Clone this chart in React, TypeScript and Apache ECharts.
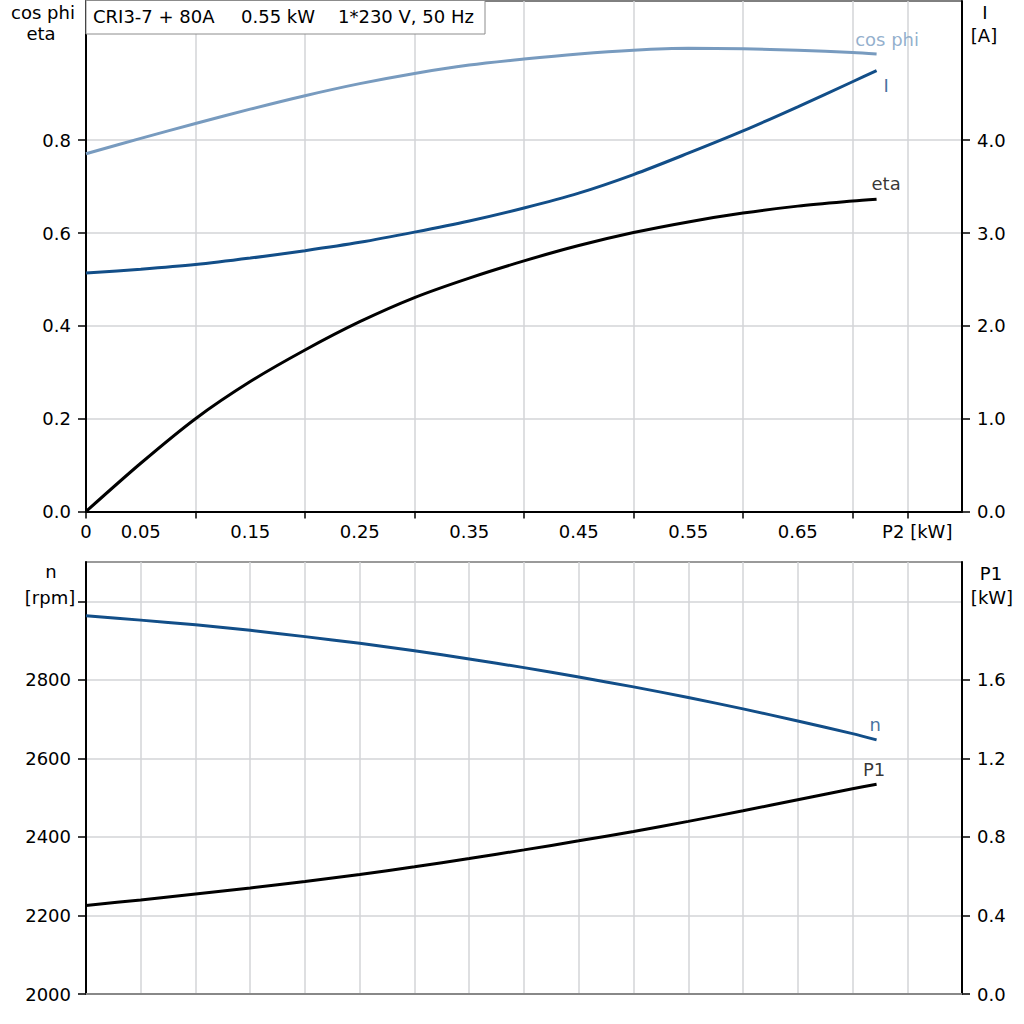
import React, { useEffect, useRef } from "react";
import * as echarts from "echarts";

// ---- data ----
const P2 = [0, 0.05, 0.1, 0.15, 0.2, 0.25, 0.3, 0.35, 0.4, 0.45, 0.5, 0.55, 0.6, 0.65, 0.7, 0.722];
const COS_PHI = [0.771, 0.804, 0.836, 0.867, 0.896, 0.922, 0.944, 0.962, 0.975, 0.986, 0.994, 0.998, 0.997, 0.994, 0.989, 0.986];
const CURRENT = [2.57, 2.61, 2.66, 2.73, 2.81, 2.9, 3.01, 3.13, 3.27, 3.43, 3.63, 3.86, 4.1, 4.36, 4.63, 4.75];
const ETA = [0, 0.104, 0.2, 0.28, 0.348, 0.409, 0.461, 0.503, 0.54, 0.573, 0.601, 0.624, 0.643, 0.658, 0.669, 0.673];
const SPEED = [2963, 2952, 2940, 2926, 2910, 2893, 2874, 2853, 2831, 2807, 2782, 2755, 2726, 2695, 2663, 2647];
const P1 = [0.451, 0.479, 0.509, 0.54, 0.573, 0.609, 0.648, 0.69, 0.734, 0.78, 0.828, 0.879, 0.933, 0.989, 1.045, 1.068];

// ---- tick / label values ----
const X_LABELS = [0, 0.05, 0.15, 0.25, 0.35, 0.45, 0.55, 0.65, 0.75];
const X_TICKS = [0, 0.1, 0.2, 0.3, 0.4, 0.5, 0.6, 0.7, 0.75];
const TOP_LEFT_TICKS = [0, 0.2, 0.4, 0.6, 0.8];
const TOP_RIGHT_TICKS = [0, 1, 2, 3, 4];
const BOTTOM_LEFT_TICKS = [2000, 2200, 2400, 2600, 2800, 3000];
const BOTTOM_LEFT_LABELS = [2000, 2200, 2400, 2600, 2800];
const BOTTOM_RIGHT_TICKS = [0, 0.4, 0.8, 1.2, 1.6];

const FONT = "DejaVu Sans";
const FS = 18;
const GRID_COLOR = "#d3d4d7";
const COS_COLOR = "#789bbf";
const BLUE = "#124e88";
const BLACK = "#000";

export default function App() {
  const ref = useRef<HTMLDivElement>(null);

  useEffect(() => {
    const chart = echarts.init(ref.current as HTMLDivElement, null, { renderer: "svg" });
    const last = P2.length - 1;
    const pts = (ys: number[]) => P2.map((x, i) => [x, ys[i]]);
    const endPt = (ys: number[]) => [[P2[last], ys[last]]];
    const txt = { fontFamily: FONT, fontSize: FS, color: BLACK };

    const lineSeries = (name: string, ys: number[], xi: number, yi: number, color: string) => ({
      type: "line",
      name,
      xAxisIndex: xi,
      yAxisIndex: yi,
      data: pts(ys),
      showSymbol: false,
      symbol: "none",
      smooth: 0.3,
      silent: true,
      z: 3,
      lineStyle: { color, width: 3 },
      itemStyle: { color },
    });

    const labelSeries = (name: string, ys: number[], xi: number, yi: number, color: string, dx: number, dy: number) => ({
      type: "scatter",
      xAxisIndex: xi,
      yAxisIndex: yi,
      data: endPt(ys),
      symbolSize: 1,
      silent: true,
      z: 4,
      itemStyle: { color: "rgba(0,0,0,0)" },
      label: {
        show: true,
        formatter: name,
        position: [dx, dy],
        align: "center",
        verticalAlign: "middle",
        fontFamily: FONT,
        fontSize: FS,
        color,
      },
    });

    const blackLine = { color: BLACK, width: 2 };
    const tickStyle = { color: BLACK, width: 1.5 };
    const splitStyle = { color: GRID_COLOR, width: 1.5 };

    const textEl = (text: string, x: number, y: number, align = "center") => ({
      type: "text",
      x,
      y,
      z: 20,
      style: { text, fontFamily: FONT, fontSize: FS, fill: BLACK, align, verticalAlign: "middle" },
    });

    chart.setOption({
      animation: false,
      backgroundColor: "#fff",
      grid: [
        { left: 86, top: 1, width: 876, height: 510.5, show: true, borderColor: BLACK, borderWidth: 1, outerBoundsMode: "none" },
        { left: 86, top: 562, width: 876, height: 432, show: true, borderColor: "#7a7a7a", borderWidth: 1.5, outerBoundsMode: "none" },
      ],
      xAxis: [
        {
          type: "value",
          gridIndex: 0,
          min: 0,
          max: 0.8,
          interval: 0.05,
          axisLine: { show: true, onZero: false, lineStyle: blackLine },
          axisTick: { show: true, customValues: X_TICKS, length: 7, lineStyle: tickStyle },
          axisLabel: {
            show: true,
            customValues: X_LABELS,
            margin: 11,
            ...txt,
            formatter: (v: number) =>
              v === 0 ? "0" : Math.abs(v - 0.75) < 1e-6 ? "{u|P2 [kW]}" : v.toFixed(2),
            rich: { u: { ...txt, padding: [0, 0, 0, 20] } },
          },
          splitLine: { show: true, lineStyle: splitStyle },
        },
        {
          type: "value",
          gridIndex: 1,
          min: 0,
          max: 0.8,
          interval: 0.05,
          axisLine: { show: true, onZero: false, lineStyle: { color: "#888", width: 2 } },
          axisTick: { show: false },
          axisLabel: { show: false },
          splitLine: { show: true, lineStyle: splitStyle },
        },
      ],
      yAxis: [
        {
          type: "value",
          gridIndex: 0,
          position: "left",
          min: 0,
          max: 1.1,
          interval: 0.1,
          axisLine: { show: true, onZero: false, lineStyle: blackLine },
          axisTick: { show: true, customValues: TOP_LEFT_TICKS, length: 8, lineStyle: tickStyle },
          axisLabel: { customValues: TOP_LEFT_TICKS, margin: 15, ...txt, formatter: (v: number) => v.toFixed(1) },
          splitLine: { show: true, lineStyle: splitStyle },
        },
        {
          type: "value",
          gridIndex: 0,
          position: "right",
          min: 0,
          max: 5.5,
          interval: 0.5,
          axisLine: { show: true, onZero: false, lineStyle: blackLine },
          axisTick: { show: true, customValues: TOP_RIGHT_TICKS, length: 8, lineStyle: tickStyle },
          axisLabel: { customValues: TOP_RIGHT_TICKS, margin: 15, ...txt, formatter: (v: number) => v.toFixed(1) },
          splitLine: { show: false },
        },
        {
          type: "value",
          gridIndex: 1,
          position: "left",
          min: 2000,
          max: 3100,
          interval: 100,
          axisLine: { show: true, onZero: false, lineStyle: blackLine },
          axisTick: { show: true, customValues: BOTTOM_LEFT_TICKS, length: 8, lineStyle: tickStyle },
          axisLabel: { customValues: BOTTOM_LEFT_LABELS, margin: 15, ...txt, formatter: (v: number) => String(v) },
          splitLine: { show: true, lineStyle: splitStyle },
        },
        {
          type: "value",
          gridIndex: 1,
          position: "right",
          min: 0,
          max: 2.2,
          interval: 0.2,
          axisLine: { show: true, onZero: false, lineStyle: blackLine },
          axisTick: { show: true, customValues: BOTTOM_RIGHT_TICKS, length: 8, lineStyle: tickStyle },
          axisLabel: { customValues: BOTTOM_RIGHT_TICKS, margin: 15, ...txt, formatter: (v: number) => v.toFixed(1) },
          splitLine: { show: false },
        },
      ],
      series: [
        lineSeries("cos phi", COS_PHI, 0, 0, COS_COLOR),
        lineSeries("I", CURRENT, 0, 1, BLUE),
        lineSeries("eta", ETA, 0, 0, BLACK),
        lineSeries("n", SPEED, 1, 2, BLUE),
        lineSeries("P1", P1, 1, 3, BLACK),
        labelSeries("cos phi", COS_PHI, 0, 0, COS_COLOR, 11, -14),
        labelSeries("I", CURRENT, 0, 1, BLUE, 10, 15),
        labelSeries("eta", ETA, 0, 0, BLACK, 10, -15),
        labelSeries("n", SPEED, 1, 2, BLUE, -1, -15),
        labelSeries("P1", P1, 1, 3, BLACK, -2, -14),
      ],
      graphic: [
        {
          type: "rect",
          z: 19,
          shape: { x: 86, y: 0.5, width: 399, height: 33.5 },
          style: { fill: "#fff", stroke: "#8c8c8c", lineWidth: 1 },
        },
        textEl("CRI3-7 + 80A", 93, 16, "left"),
        textEl("0.55 kW", 241, 16, "left"),
        textEl("1*230 V, 50 Hz", 338, 16, "left"),
        textEl("cos phi", 43, 12),
        textEl("eta", 41, 33),
        textEl("I", 985, 12),
        textEl("[A]", 984, 35),
        textEl("n", 51, 571),
        textEl("[rpm]", 50, 597),
        textEl("P1", 991, 573),
        textEl("[kW]", 992, 597),
      ],
    });

    return () => chart.dispose();
  }, []);

  return (
    <div
      ref={ref}
      style={{ position: "absolute", left: 0, top: 0, width: 1024, height: 1024, background: "#fff" }}
    />
  );
}
